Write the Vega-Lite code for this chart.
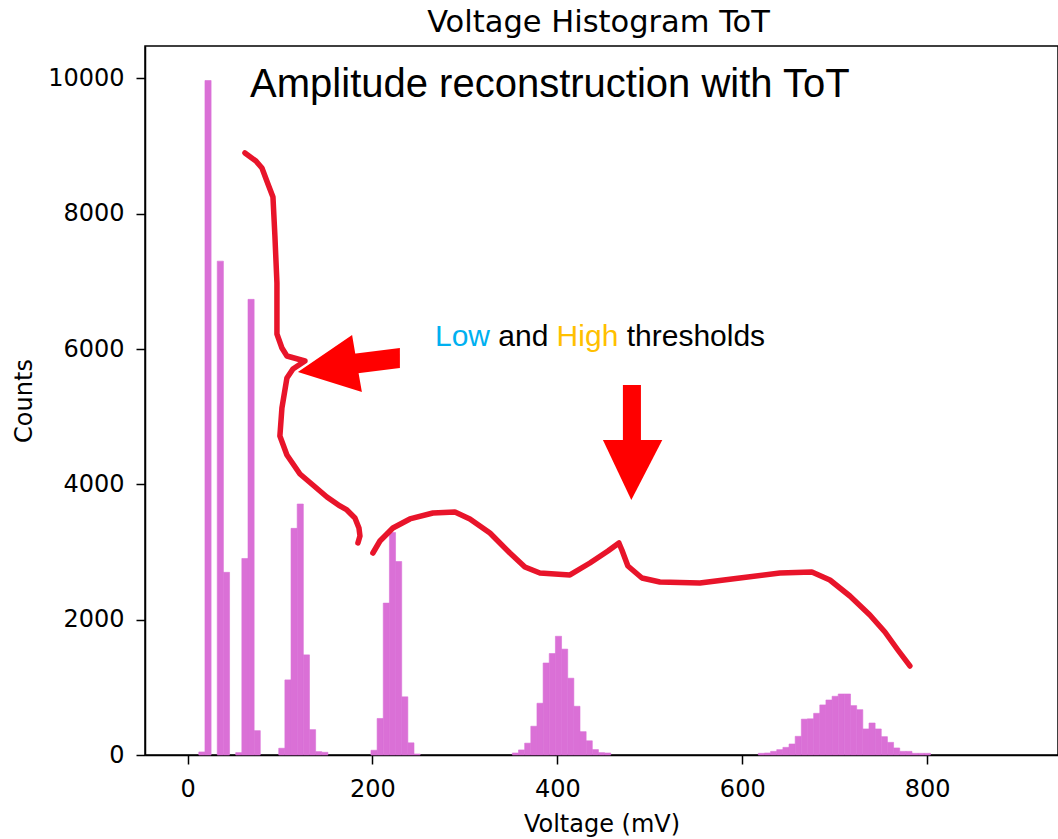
{
  "$schema": "https://vega.github.io/schema/vega-lite/v6.json",
  "width": 913,
  "height": 709,
  "autosize": {"type": "none"},
  "padding": {"left": 145, "top": 46, "right": 0, "bottom": 84},
  "background": "white",
  "title": {"text": "Voltage Histogram ToT", "font": "DejaVu Sans", "fontSize": 30.5, "fontWeight": "normal", "color": "#000000", "anchor": "middle", "offset": 8, "dx": -3},
  "config": {
    "view": {"stroke": "#000000", "strokeWidth": 1.5},
    "axis": {"grid": false, "tickColor": "#000000", "tickWidth": 1.5, "tickSize": 9, "domainColor": "#000000", "domainWidth": 1.5, "labelFont": "DejaVu Sans", "labelFontSize": 24, "labelColor": "#000000", "titleFont": "DejaVu Sans", "titleFontSize": 24, "titleFontWeight": "normal", "titleColor": "#000000"}
  },
  "datasets": {
    "hist": [
      {"x": 12.2, "x2": 18.85, "y": 45},
      {"x": 18.85, "x2": 25.5, "y": 9970},
      {"x": 32.15, "x2": 38.8, "y": 7300},
      {"x": 38.8, "x2": 45.45, "y": 2700},
      {"x": 52.1, "x2": 58.75, "y": 35},
      {"x": 58.75, "x2": 65.4, "y": 2905},
      {"x": 65.4, "x2": 72.05, "y": 6735},
      {"x": 72.05, "x2": 78.7, "y": 360},
      {"x": 98.65, "x2": 105.3, "y": 100},
      {"x": 105.3, "x2": 111.95, "y": 1110},
      {"x": 111.95, "x2": 118.6, "y": 3350},
      {"x": 118.6, "x2": 125.25, "y": 3710},
      {"x": 125.25, "x2": 131.9, "y": 1480},
      {"x": 131.9, "x2": 138.55, "y": 375},
      {"x": 138.55, "x2": 145.2, "y": 50},
      {"x": 145.2, "x2": 151.85, "y": 40},
      {"x": 198.4, "x2": 205.05, "y": 70},
      {"x": 205.05, "x2": 211.7, "y": 540},
      {"x": 211.7, "x2": 218.35, "y": 2245},
      {"x": 218.35, "x2": 225.0, "y": 3290},
      {"x": 225.0, "x2": 231.65, "y": 2860},
      {"x": 231.65, "x2": 238.3, "y": 860},
      {"x": 238.3, "x2": 244.95, "y": 180},
      {"x": 244.95, "x2": 251.6, "y": 15},
      {"x": 351.35, "x2": 358.0, "y": 30},
      {"x": 358.0, "x2": 364.65, "y": 75},
      {"x": 364.65, "x2": 371.3, "y": 175},
      {"x": 371.3, "x2": 377.95, "y": 425},
      {"x": 377.95, "x2": 384.6, "y": 765},
      {"x": 384.6, "x2": 391.25, "y": 1360},
      {"x": 391.25, "x2": 397.9, "y": 1500},
      {"x": 397.9, "x2": 404.55, "y": 1755},
      {"x": 404.55, "x2": 411.2, "y": 1565},
      {"x": 411.2, "x2": 417.85, "y": 1135},
      {"x": 417.85, "x2": 424.5, "y": 720},
      {"x": 424.5, "x2": 431.15, "y": 345},
      {"x": 431.15, "x2": 437.8, "y": 210},
      {"x": 437.8, "x2": 444.45, "y": 80},
      {"x": 444.45, "x2": 451.1, "y": 35},
      {"x": 451.1, "x2": 457.75, "y": 30},
      {"x": 617.35, "x2": 624.0, "y": 25},
      {"x": 624.0, "x2": 630.65, "y": 30},
      {"x": 630.65, "x2": 637.3, "y": 54},
      {"x": 637.3, "x2": 643.95, "y": 79},
      {"x": 643.95, "x2": 650.6, "y": 113},
      {"x": 650.6, "x2": 657.25, "y": 163},
      {"x": 657.25, "x2": 663.9, "y": 276},
      {"x": 663.9, "x2": 670.55, "y": 530},
      {"x": 670.55, "x2": 677.2, "y": 535},
      {"x": 677.2, "x2": 683.85, "y": 616},
      {"x": 683.85, "x2": 690.5, "y": 740},
      {"x": 690.5, "x2": 697.15, "y": 813},
      {"x": 697.15, "x2": 703.8, "y": 868},
      {"x": 703.8, "x2": 710.45, "y": 902},
      {"x": 710.45, "x2": 717.1, "y": 902},
      {"x": 717.1, "x2": 723.75, "y": 730},
      {"x": 723.75, "x2": 730.4, "y": 670},
      {"x": 730.4, "x2": 737.05, "y": 385},
      {"x": 737.05, "x2": 743.7, "y": 473},
      {"x": 743.7, "x2": 750.35, "y": 385},
      {"x": 750.35, "x2": 757.0, "y": 271},
      {"x": 757.0, "x2": 763.65, "y": 187},
      {"x": 763.65, "x2": 770.3, "y": 104},
      {"x": 770.3, "x2": 776.95, "y": 54},
      {"x": 776.95, "x2": 783.6, "y": 54},
      {"x": 783.6, "x2": 790.25, "y": 25},
      {"x": 790.25, "x2": 796.9, "y": 25},
      {"x": 796.9, "x2": 803.55, "y": 25}
    ],
    "curve": [
      {"seg": "L", "i": 1, "x": 62.1, "y": 8899},
      {"seg": "L", "i": 2, "x": 74.0, "y": 8780},
      {"seg": "L", "i": 3, "x": 80.5, "y": 8677},
      {"seg": "L", "i": 4, "x": 87.0, "y": 8441},
      {"seg": "L", "i": 5, "x": 92.4, "y": 8248},
      {"seg": "L", "i": 6, "x": 94.5, "y": 7672},
      {"seg": "L", "i": 7, "x": 96.7, "y": 6977},
      {"seg": "L", "i": 8, "x": 96.7, "y": 6223},
      {"seg": "L", "i": 9, "x": 102.1, "y": 6016},
      {"seg": "L", "i": 10, "x": 107.5, "y": 5898},
      {"seg": "L", "i": 11, "x": 127.0, "y": 5824},
      {"seg": "L", "i": 12, "x": 114.0, "y": 5706},
      {"seg": "L", "i": 13, "x": 107.5, "y": 5573},
      {"seg": "L", "i": 14, "x": 102.1, "y": 5129},
      {"seg": "L", "i": 15, "x": 99.9, "y": 4715},
      {"seg": "L", "i": 16, "x": 107.5, "y": 4435},
      {"seg": "L", "i": 17, "x": 121.6, "y": 4154},
      {"seg": "L", "i": 18, "x": 135.6, "y": 3991},
      {"seg": "L", "i": 19, "x": 150.8, "y": 3814},
      {"seg": "L", "i": 20, "x": 164.8, "y": 3681},
      {"seg": "L", "i": 21, "x": 172.4, "y": 3622},
      {"seg": "L", "i": 22, "x": 181.1, "y": 3503},
      {"seg": "L", "i": 23, "x": 185.4, "y": 3356},
      {"seg": "L", "i": 24, "x": 186.5, "y": 3237},
      {"seg": "L", "i": 25, "x": 184.3, "y": 3134},
      {"seg": "R", "i": 1, "x": 200.5, "y": 2986},
      {"seg": "R", "i": 2, "x": 208.1, "y": 3163},
      {"seg": "R", "i": 3, "x": 222.1, "y": 3356},
      {"seg": "R", "i": 4, "x": 240.5, "y": 3489},
      {"seg": "R", "i": 5, "x": 265.4, "y": 3577},
      {"seg": "R", "i": 6, "x": 289.2, "y": 3592},
      {"seg": "R", "i": 7, "x": 305.4, "y": 3489},
      {"seg": "R", "i": 8, "x": 327.1, "y": 3282},
      {"seg": "R", "i": 9, "x": 348.7, "y": 2986},
      {"seg": "R", "i": 10, "x": 364.9, "y": 2779},
      {"seg": "R", "i": 11, "x": 381.1, "y": 2690},
      {"seg": "R", "i": 12, "x": 413.6, "y": 2661},
      {"seg": "R", "i": 13, "x": 435.2, "y": 2838},
      {"seg": "R", "i": 14, "x": 454.7, "y": 3016},
      {"seg": "R", "i": 15, "x": 466.6, "y": 3134},
      {"seg": "R", "i": 16, "x": 469.8, "y": 3030},
      {"seg": "R", "i": 17, "x": 476.3, "y": 2794},
      {"seg": "R", "i": 18, "x": 491.5, "y": 2616},
      {"seg": "R", "i": 19, "x": 510.9, "y": 2557},
      {"seg": "R", "i": 20, "x": 554.2, "y": 2543},
      {"seg": "R", "i": 21, "x": 597.4, "y": 2616},
      {"seg": "R", "i": 22, "x": 640.7, "y": 2690},
      {"seg": "R", "i": 23, "x": 675.3, "y": 2705},
      {"seg": "R", "i": 24, "x": 694.8, "y": 2587},
      {"seg": "R", "i": 25, "x": 716.4, "y": 2350},
      {"seg": "R", "i": 26, "x": 738.0, "y": 2069},
      {"seg": "R", "i": 27, "x": 754.3, "y": 1818},
      {"seg": "R", "i": 28, "x": 768.3, "y": 1552},
      {"seg": "R", "i": 29, "x": 781.3, "y": 1316}
    ],
    "varrow": [
      {"g": "shaft", "x": 177.8, "y": 5928, "y2": 5632},
      {"g": "shaft", "x": 229.7, "y": 6016, "y2": 5721},
      {"g": "head", "x": 449.3, "y": 4656, "y2": 4656},
      {"g": "head", "x": 480.0, "y": 4656, "y2": 3769},
      {"g": "head", "x": 513.5, "y": 4656, "y2": 4656}
    ],
    "harrow": [
      {"y": 6209, "x": 178.0, "x2": 178.0},
      {"y": 5661, "x": 119.4, "x2": 184.8},
      {"y": 5366, "x": 188.6, "x2": 188.6}
    ],
    "dshaft": [
      {"x": 470.9, "x2": 490.4, "y": 5469, "y2": 4627}
    ],
    "big": [
      {"x": 67.7, "y": 9727, "t": "Amplitude reconstruction with ToT"}
    ],
    "words": [
      {"x": 267.6, "y": 6046, "t": "Low"},
      {"x": 336.1, "y": 6046, "t": "and"},
      {"x": 399.2, "y": 6046, "t": "High"},
      {"x": 475.0, "y": 6046, "t": "thresholds"}
    ]
  },
  "encoding": {
    "x": {
      "field": "x", "type": "quantitative",
      "scale": {"domain": [-46, 941.5], "nice": false, "zero": false},
      "axis": {"values": [0, 200, 400, 600, 800], "labelBaseline": "alphabetic", "labelPadding": 32, "labelFlush": false, "titleBaseline": "alphabetic", "titleY": 76},
      "title": "Voltage (mV)"
    },
    "y": {
      "field": "y", "type": "quantitative",
      "scale": {"domain": [0, 10480], "nice": false},
      "axis": {"values": [0, 2000, 4000, 6000, 8000, 10000], "format": "d", "labelPadding": 12, "labelBaseline": "middle", "titleBaseline": "alphabetic", "titleX": -114, "titleY": 354.5},
      "title": "Counts"
    }
  },
  "layer": [
    {
      "data": {"name": "hist"},
      "mark": {"type": "rect", "color": "#DA70D6", "stroke": "#DA70D6", "strokeWidth": 0.6},
      "encoding": {"x2": {"field": "x2"}, "y2": {"datum": 0}}
    },
    {
      "data": {"name": "curve"},
      "mark": {"type": "line", "color": "#E8142A", "strokeWidth": 5.5, "strokeCap": "round", "strokeJoin": "round"},
      "encoding": {"detail": {"field": "seg"}, "order": {"field": "i", "type": "quantitative"}}
    },
    {
      "data": {"name": "varrow"},
      "mark": {"type": "area", "orient": "vertical", "color": "#FF0000", "opacity": 1},
      "encoding": {"y2": {"field": "y2"}, "detail": {"field": "g"}}
    },
    {
      "data": {"name": "harrow"},
      "mark": {"type": "area", "orient": "horizontal", "color": "#FF0000", "opacity": 1},
      "encoding": {"x2": {"field": "x2"}}
    },
    {
      "data": {"name": "dshaft"},
      "mark": {"type": "rect", "color": "#FF0000"},
      "encoding": {"x2": {"field": "x2"}, "y2": {"field": "y2"}}
    },
    {
      "data": {"name": "big"},
      "mark": {"type": "text", "font": "Liberation Sans", "fontSize": 40, "align": "left", "baseline": "alphabetic", "color": "#000000"},
      "encoding": {"text": {"field": "t"}}
    },
    {
      "data": {"name": "words"},
      "mark": {"type": "text", "font": "Liberation Sans", "fontSize": 30, "align": "left", "baseline": "alphabetic"},
      "encoding": {
        "text": {"field": "t"},
        "color": {"field": "t", "type": "nominal", "scale": {"domain": ["Low", "and", "High", "thresholds"], "range": ["#00B0F0", "#000000", "#FFC000", "#000000"]}, "legend": null}
      }
    }
  ]
}
